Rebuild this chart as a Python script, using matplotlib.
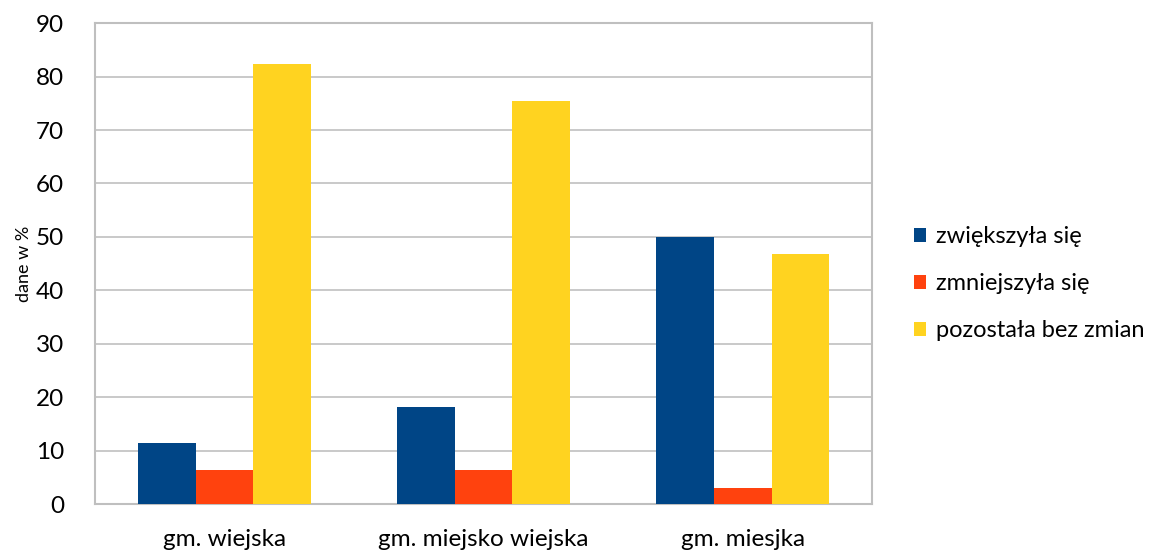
import numpy as np
import matplotlib.pyplot as plt

categories = ["gm. wiejska", "gm. miejsko wiejska", "gm. miesjka"]
series_names = ["zwiększyła się", "zmniejszyła się", "pozostała bez zmian"]
zwiekszyla = [11.4, 18.2, 50.0]
zmniejszyla = [6.4, 6.4, 3.1]
bez_zmian = [82.3, 75.5, 46.8]
colors = ["#004586", "#ff420e", "#ffd320"]

plt.rcParams['font.family'] = ['Lato', 'DejaVu Sans']

fig = plt.figure(figsize=(11.57, 5.51), dpi=100)
ax = fig.add_axes([0.082, 0.085, 0.672, 0.873])

x = np.arange(len(categories))
w = 0.222
for i, (vals, name) in enumerate(zip([zwiekszyla, zmniejszyla, bez_zmian], series_names)):
    ax.bar(x + (i - 1) * w, vals, width=w, color=colors[i], label=name, zorder=3)

ax.set_xlim(-0.5, 2.5)
ax.set_ylim(0, 90)
ax.set_yticks(np.arange(0, 91, 10))
ax.set_xticks(x)
ax.set_xticklabels(categories)
ax.tick_params(axis='both', length=0, labelsize=17.5)
ax.tick_params(axis='x', pad=18)
ax.tick_params(axis='y', pad=22)
ax.grid(axis='y', color='#c0c0c0', linewidth=1.2, zorder=0)
for s in ax.spines.values():
    s.set_color('#bfbfbf')
    s.set_linewidth(1.5)
ax.set_ylabel("dane w %", fontsize=13, labelpad=3)

fig.legend(loc='center left', bbox_to_anchor=(0.772, 0.485), frameon=False,
           fontsize=17, handlelength=0.5, handleheight=0.5, handletextpad=0.4,
           labelspacing=1.1)

fig.savefig("out.png", dpi=100)
